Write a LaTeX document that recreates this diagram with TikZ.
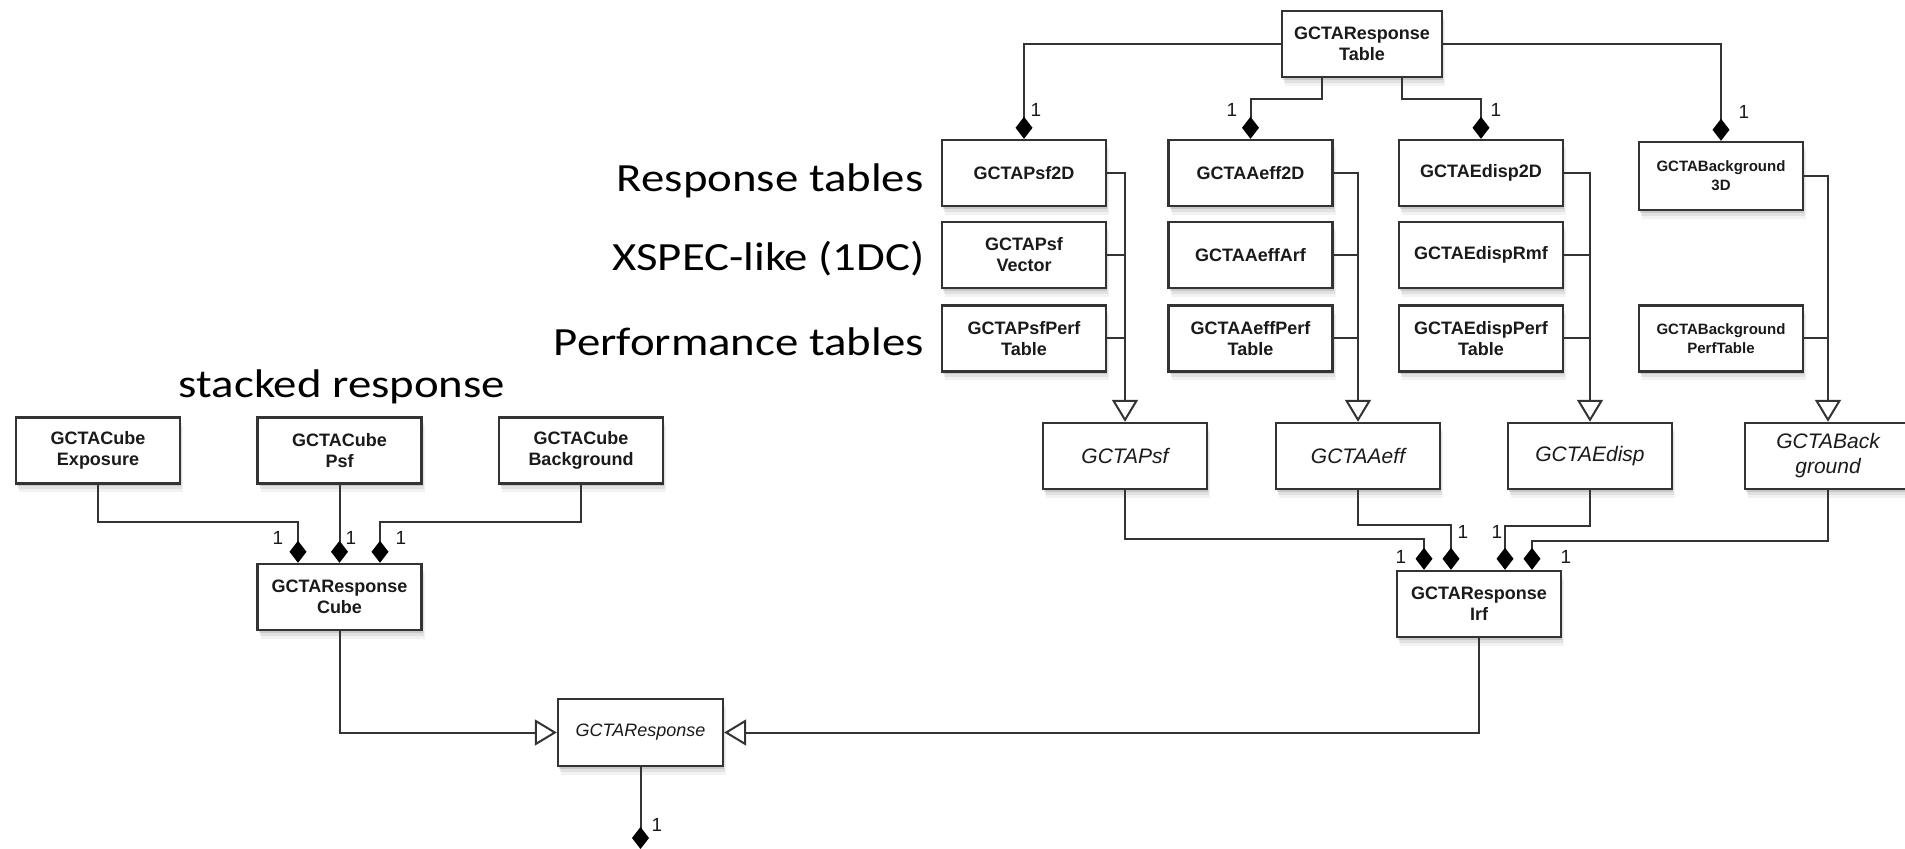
\documentclass[tikz,border=0pt]{standalone}
\usepackage{fontspec}
\setmainfont{Liberation Sans}
\newfontfamily\calib{Carlito}
\usetikzlibrary{arrows.meta,shadows,calc}
\definecolor{lc}{HTML}{333333}
\definecolor{tc}{HTML}{1A1A1A}
\tikzset{
  cls/.style={draw=lc, line width=1.2pt, fill=white, text=tc, align=center, inner sep=0pt,
    minimum width=82pt, minimum height=33pt, font=\bfseries\fontsize{9}{10.5}\selectfont,
    drop shadow={shadow xshift=1.5pt, shadow yshift=-4.5pt, opacity=0.10},
    drop shadow={shadow xshift=1pt, shadow yshift=-3pt, opacity=0.15},
    drop shadow={shadow xshift=0.5pt, shadow yshift=-1.5pt, opacity=0.25}},
  abs/.style={cls, font=\itshape\fontsize{10.5}{12.5}\selectfont},
  smallcls/.style={cls, font=\bfseries\fontsize{7.5}{9.5}\selectfont},
  lnk/.style={draw=lc, line width=1pt},
  comp/.style={lnk, -{Diamond[length=11pt,width=8.5pt,color=black]}},
  gen/.style={lnk, -{Triangle[open,length=11pt,width=13pt,fill=white]}},
  mult/.style={font=\fontsize{9.5}{10}\selectfont, text=tc, inner sep=0pt},
  side/.style={font=\calib\fontsize{20}{24}\selectfont, inner sep=0pt, text=black},
}
\begin{document}
\begin{tikzpicture}[x=0.5pt,y=-0.5pt]
\fill[white] (0,0) rectangle (1905,849);
\useasboundingbox (0,0) rectangle (1905,849);

% top table hierarchy
\node[cls, minimum width=80pt] (RT) at (1362,44) {GCTAResponse\\Table};
\node[cls] (Psf2D) at (1024,173) {GCTAPsf2D};
\node[cls] (PsfVec) at (1024,255) {GCTAPsf\\Vector};
\node[cls] (PsfPerf) at (1024,338.5) {GCTAPsfPerf\\Table};
\node[cls] (Aeff2D) at (1250.5,173) {GCTAAeff2D};
\node[cls] (AeffArf) at (1250.5,255) {GCTAAeffArf};
\node[cls] (AeffPerf) at (1250.5,338.5) {GCTAAeffPerf\\Table};
\node[cls] (Edisp2D) at (1481,173) {GCTAEdisp2D};
\node[cls] (EdispRmf) at (1481,255) {GCTAEdispRmf};
\node[cls] (EdispPerf) at (1481,338.5) {GCTAEdispPerf\\Table};
\node[smallcls, minimum height=34pt] (Back3D) at (1721,176) {GCTABackground\\3D};
\node[smallcls] (BackPerf) at (1721,338.5) {GCTABackground\\PerfTable};

% abstract classes
\node[abs] (Psf) at (1125,456) {GCTAPsf};
\node[abs] (Aeff) at (1358,456) {GCTAAeff};
\node[abs] (Edisp) at (1590,456) {GCTAEdisp};
\node[abs, minimum width=83pt] (Back) at (1828,456) {GCTABack\\ground};
\node[cls] (Irf) at (1479,604) {GCTAResponse\\Irf};

% cube part
\node[cls] (CExp) at (98,450.5) {GCTACube\\Exposure};
\node[cls] (CPsf) at (339.5,450.5) {GCTACube\\Psf};
\node[cls] (CBack) at (581,450.5) {GCTACube\\Background};
\node[cls] (RC) at (339.5,597) {GCTAResponse\\Cube};
\node[abs, font=\itshape\fontsize{9}{11}\selectfont, minimum width=82.5pt, minimum height=33.5pt] (Resp) at (640.5,732.5) {GCTAResponse};

% side labels
\node[side, anchor=base east] (lResp) at (924,192) {\scalebox{1.17}[1]{Response tables}};
\node[side, anchor=base east] (lX) at (925,271) {\scalebox{1.17}[1]{XSPEC-like (1DC)}};
\node[side, anchor=base east] (lPerf) at (924,356) {\scalebox{1.17}[1]{Performance tables}};
\node[side, anchor=base] (lStack) at (342,398) {\scalebox{1.17}[1]{stacked response}};

% compositions from response table
\draw[comp] (RT.west) -| (Psf2D.north);
\draw[comp] (RT.east) -| (Back3D.north);
\draw[comp] ([xshift=-20pt]RT.south) -- ++(0,21) -| (Aeff2D.north);
\draw[comp] ([xshift=20pt]RT.south) -- ++(0,21) -| (Edisp2D.north);

% generalisations
\draw[gen] (Psf2D.east) -| (Psf.north);
\draw[lnk] (PsfVec.east) -- (PsfVec.east -| Psf.north);
\draw[lnk] (PsfPerf.east) -- (PsfPerf.east -| Psf.north);
\draw[gen] (Aeff2D.east) -| (Aeff.north);
\draw[lnk] (AeffArf.east) -- (AeffArf.east -| Aeff.north);
\draw[lnk] (AeffPerf.east) -- (AeffPerf.east -| Aeff.north);
\draw[gen] (Edisp2D.east) -| (Edisp.north);
\draw[lnk] (EdispRmf.east) -- (EdispRmf.east -| Edisp.north);
\draw[lnk] (EdispPerf.east) -- (EdispPerf.east -| Edisp.north);
\draw[gen] (Back3D.east) -| (Back.north);
\draw[lnk] (BackPerf.east) -- (BackPerf.east -| Back.north);

% compositions into Irf
\draw[comp] (Psf.south) -- ++(0,49) -| ([xshift=-27.5pt]Irf.north);
\draw[comp] (Aeff.south) -- ++(0,35) -| ([xshift=-14pt]Irf.north);
\draw[comp] (Edisp.south) -- ++(0,36) -| ([xshift=13pt]Irf.north);
\draw[comp] (Back.south) -- ++(0,51) -| ([xshift=26.5pt]Irf.north);

% cube compositions
\draw[comp] (CExp.south) -- ++(0,37) -| ([xshift=-20.75pt]RC.north);
\draw[comp] (CPsf.south) -- (RC.north);
\draw[comp] (CBack.south) -- ++(0,37) -| ([xshift=20.25pt]RC.north);

% to GCTAResponse
\draw[gen] (RC.south) |- (Resp.west);
\draw[gen] (Irf.south) |- (Resp.east);
\coordinate (bot) at (640.5,849);
\draw[comp] (Resp.south) -- (bot);

% multiplicities
\node[mult] (m1) at (1036,110) {1};
\node[mult] (m2) at (1232,110) {1};
\node[mult] (m3) at (1496,110) {1};
\node[mult] (m4) at (1744,112) {1};
\node[mult] (m5) at (1401,557) {1};
\node[mult] (m6) at (1463,532) {1};
\node[mult] (m7) at (1497,532) {1};
\node[mult] (m8) at (1566,557) {1};
\node[mult] (m9) at (278,538) {1};
\node[mult] (m10) at (351,538) {1};
\node[mult] (m11) at (401,538) {1};
\node[mult] (m12) at (657,825) {1};
\end{tikzpicture}
\end{document}
